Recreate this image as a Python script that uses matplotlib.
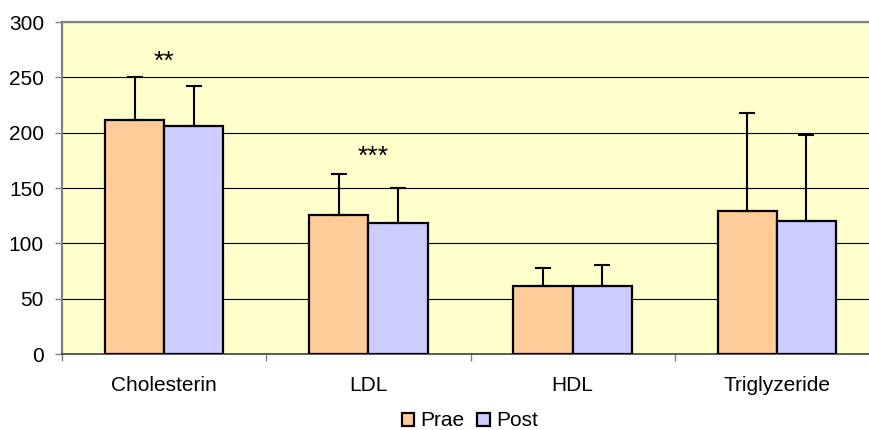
import matplotlib.pyplot as plt
import numpy as np

plt.rcParams['font.family'] = ['Liberation Sans', 'DejaVu Sans']

categories = ['Cholesterin', 'LDL', 'HDL', 'Triglyzeride']
prae = [211, 126, 61, 129]
prae_sd = [39, 37, 17, 89]
post = [206, 118, 61, 120]
post_sd = [36, 32, 19, 78]
stars = ['**', '***', '', '']
star_y = [264, 178, 0, 0]
star_dx = [0.0, 0.025, 0.0, 0.0]

fig = plt.figure(figsize=(8.69, 4.30), dpi=100)
ax = fig.add_axes([62 / 869, 76 / 430, 817 / 869, 332 / 430])
ax.set_facecolor('#FFFFCC')

x = np.arange(len(categories)) + 0.5
w = 0.29
err_kw = dict(ecolor='black', elinewidth=1.5, capsize=6, capthick=1.5)
ax.bar(x - w / 2, prae, w, color='#FFCC99', edgecolor='black', linewidth=1.6,
       yerr=[np.zeros(4), prae_sd], error_kw=err_kw, label='Prae', zorder=3)
ax.bar(x + w / 2, post, w, color='#CCCCFF', edgecolor='black', linewidth=1.6,
       yerr=[np.zeros(4), post_sd], error_kw=err_kw, label='Post', zorder=3)

for xi, s, yi, dx in zip(x, stars, star_y, star_dx):
    if s:
        ax.text(xi + dx, yi, s, ha='center', va='center', fontsize=19)

ax.set_xlim(0, 4)
ax.set_ylim(0, 300)
ax.set_yticks(range(0, 301, 50))
ax.yaxis.grid(True, color='black', linewidth=0.8, zorder=0)
ax.set_axisbelow(True)
ax.tick_params(axis='y', labelsize=15, length=5, width=1, color='#808080', pad=8)

ax.set_xticks(range(0, 5))
ax.set_xticklabels([])
ax.tick_params(axis='x', which='major', length=5, width=1, color='#808080')
ax.set_xticks(x, minor=True)
ax.set_xticklabels(categories, minor=True)
ax.tick_params(axis='x', which='minor', length=0, labelsize=15, pad=16)

ax.spines['right'].set_visible(False)
ax.spines['top'].set_color('#808080')
ax.spines['top'].set_linewidth(1.6)
ax.spines['left'].set_color('#808080')
ax.spines['left'].set_linewidth(1.6)
ax.spines['bottom'].set_color('#404040')
ax.spines['bottom'].set_linewidth(1.2)

ax.legend(loc='center', bbox_to_anchor=(470 / 869, 9 / 430), bbox_transform=fig.transFigure,
          ncol=2, frameon=False, fontsize=15, handlelength=0.6, handleheight=0.6,
          handletextpad=0.3, columnspacing=0.6)

fig.savefig('out.png', dpi=100)
